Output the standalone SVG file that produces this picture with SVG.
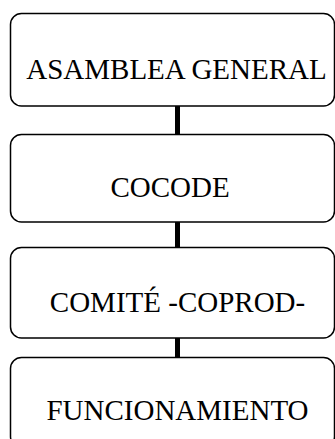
<svg xmlns="http://www.w3.org/2000/svg" width="335" height="439" viewBox="0 0 335 439">
<style>
.box{fill:#fff;stroke:#000;stroke-width:1.5}
.lbl{font-family:"Liberation Serif","Times New Roman",serif;font-size:29px;fill:#000;text-anchor:middle}
.con{stroke:#000;stroke-width:5;fill:none}
</style>
<rect width="335" height="439" fill="#fff"/>
<g id="connectors">
<line class="con" x1="177.5" y1="106" x2="177.5" y2="134"/>
<line class="con" x1="177.5" y1="222" x2="177.5" y2="247"/>
<line class="con" x1="177.5" y1="338" x2="177.5" y2="357"/>
</g>
<g id="asamblea">
<rect class="box" x="10.5" y="13.5" width="324" height="92.5" rx="11"/>
<text class="lbl" x="176.5" y="79">ASAMBLEA GENERAL</text>
</g>
<g id="cocode">
<rect class="box" x="10.5" y="134.5" width="324" height="87.5" rx="11"/>
<text class="lbl" x="170" y="197">COCODE</text>
</g>
<g id="comite">
<rect class="box" x="10.5" y="247.5" width="324" height="90.5" rx="11"/>
<text class="lbl" x="177.5" y="312">COMITÉ -COPROD-</text>
</g>
<g id="funcionamiento">
<rect class="box" x="10.5" y="357.5" width="324" height="90" rx="11"/>
<text class="lbl" x="177.5" y="420">FUNCIONAMIENTO</text>
</g>
</svg>
